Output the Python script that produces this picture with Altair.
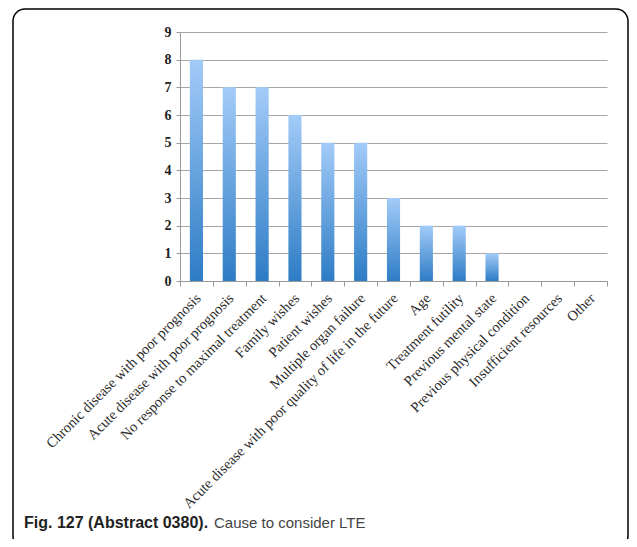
import altair as alt
import pandas as pd

categories = [
    "Chronic disease with poor prognosis",
    "Acute disease with poor prognosis",
    "No response to maximal treatment",
    "Family wishes",
    "Patient wishes",
    "Multiple organ failure",
    "Acute disease with poor quality of life in the future",
    "Age",
    "Treatment futility",
    "Previous mental state",
    "Previous physical condition",
    "Insufficient resources",
    "Other",
]
counts = [8, 7, 7, 6, 5, 5, 3, 2, 2, 1, 0, 0, 0]
y_ticks = [0, 1, 2, 3, 4, 5, 6, 7, 8, 9]
caption_bold = "Fig. 127 (Abstract 0380)."
caption_text = "Cause to consider LTE"

df = pd.DataFrame({"cause": categories, "count": counts})
one = pd.DataFrame({"k": [0]})

W, H = 427, 249

gradient = alt.Gradient(
    gradient="linear",
    stops=[
        alt.GradientStop(color="#a3cbf8", offset=0),
        alt.GradientStop(color="#2d7cc5", offset=1),
    ],
    x1=0, x2=0, y1=0, y2=1,
)

bars = alt.Chart(df).mark_bar(color=gradient, width=alt.RelativeBandSize(0.4)).encode(
    x=alt.X(
        "cause:N",
        sort=categories,
        title=None,
        scale=alt.Scale(paddingInner=0, paddingOuter=0),
        axis=alt.Axis(
            labelAngle=-45,
            tickBand="extent",
            labelFont="Liberation Serif",
            labelFontSize=14.5,
            labelColor="#2a2a2a",
            domainColor="#999999",
            tickColor="#999999",
            tickSize=5,
            labelPadding=5,
            labelOffset=-3,
            labelLimit=400,
        ),
    ),
    y=alt.Y(
        "count:Q",
        title=None,
        scale=alt.Scale(domain=[0, 9], nice=False),
        axis=alt.Axis(
            values=y_ticks,
            format="d",
            labelFont="Liberation Serif",
            labelFontWeight="bold",
            labelFontSize=14,
            labelColor="#222222",
            gridColor="#a6a6a6",
            domainColor="#999999",
            tickColor="#999999",
            tickSize=4,
            labelPadding=5,
        ),
    ),
)

frame = alt.Chart(one).mark_rect(
    fillOpacity=0, stroke="black", strokeWidth=1.5, cornerRadius=12
).encode(
    x=alt.value(-167), x2=alt.value(448), y=alt.value(-23), y2=alt.value(516)
)

cap1 = alt.Chart(one).mark_text(
    align="left", baseline="alphabetic", font="Liberation Sans", fontSize=16,
    fontWeight="bold", color="#222222", text=caption_bold
).encode(x=alt.value(-156), y=alt.value(496))

cap2 = alt.Chart(one).mark_text(
    align="left", baseline="alphabetic", font="Liberation Sans", fontSize=15,
    color="#444444", text=caption_text
).encode(x=alt.value(34), y=alt.value(496))

chart = alt.layer(frame, bars, cap1, cap2).properties(
    width=W, height=H, autosize="none",
    padding={"left": 172, "top": 24, "right": 22, "bottom": 258},
).configure_view(stroke=None)

chart.save("out.html", embed_options={"renderer": "svg", "actions": False})
